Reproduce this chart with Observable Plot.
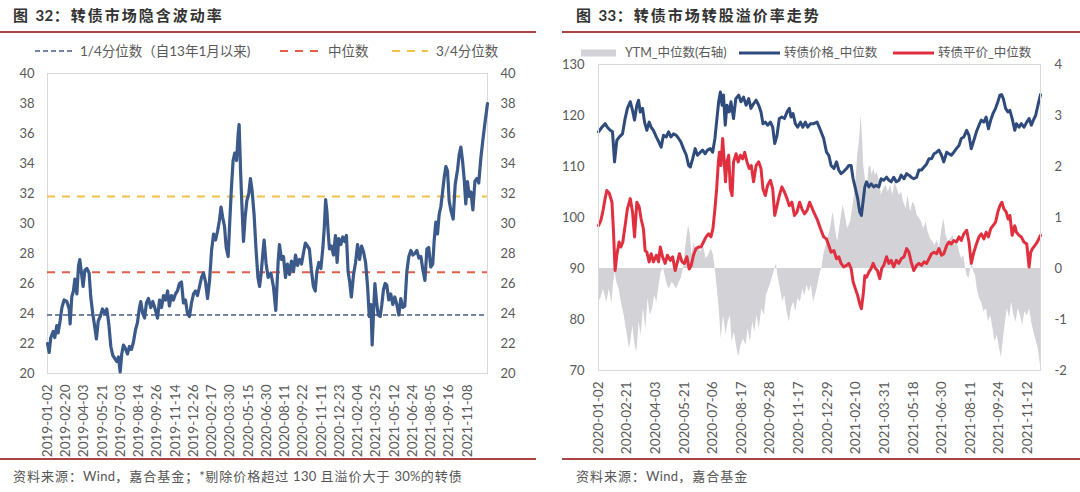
<!DOCTYPE html>
<html><head><meta charset="utf-8">
<script src="https://cdn.jsdelivr.net/npm/d3@7"></script>
<script src="https://cdn.jsdelivr.net/npm/@observablehq/plot@0.6"></script>
<style>
html,body{margin:0;padding:0;background:#fff;}
body{width:1080px;height:492px;overflow:hidden;position:relative;font-family:Lato,"Noto Sans CJK SC",sans-serif;}
.abs{position:absolute;white-space:nowrap;}
.title{font-family:"Noto Sans CJK SC",sans-serif;font-size:15px;line-height:20px;color:#333;font-weight:700;letter-spacing:2px;}
.title b{font-family:Lato,sans-serif;font-weight:700;letter-spacing:0.5px;}
.rule{position:absolute;height:1.5px;background:#a94545;}
.foot{font-family:"Noto Sans CJK SC",sans-serif;font-size:13px;line-height:18px;color:#555;letter-spacing:1px;}
.foot span{font-family:Lato,sans-serif;letter-spacing:0.3px;}
.leg{font-size:13.5px;line-height:18px;color:#595959;}
.legr{font-size:12.5px;line-height:18px;color:#595959;}
svg.sw{position:absolute;overflow:visible;}
</style></head><body>
<div class="abs title" style="left:13px;top:5px;">图 <b>32</b>：转债市场隐含波动率</div>
<div class="abs title" style="left:576px;top:5px;">图 <b>33</b>：转债市场转股溢价率走势</div>
<div class="rule" style="left:0;top:31px;width:536px;"></div>
<div class="rule" style="left:562px;top:31px;width:518px;"></div>
<div class="rule" style="left:0;top:458px;width:536px;"></div>
<div class="rule" style="left:562px;top:458px;width:518px;"></div>
<div class="abs foot" style="left:13px;top:467px;">资料来源：<span>Wind</span>，嘉合基金；<span>*</span>剔除价格超过 <span>130</span> 且溢价大于 <span>30%</span>的转债</div>
<div class="abs foot" style="left:576px;top:467px;">资料来源：<span>Wind</span>，嘉合基金</div>

<div id="legL"></div>
<div id="legR"></div>
<div id="chartL" class="abs" style="left:0;top:62px;"></div>
<div id="chartR" class="abs" style="left:540px;top:55px;"></div>

<script>
// ---------- Figure 32: implied volatility ----------
const ivLabels = ["2019-01-02","2019-02-20","2019-04-03","2019-05-21","2019-07-03","2019-08-14","2019-09-26","2019-11-14","2019-12-26","2020-02-17","2020-03-30","2020-05-15","2020-06-30","2020-08-11","2020-09-22","2020-11-11","2020-12-23","2021-02-04","2021-03-25","2021-05-12","2021-06-24","2021-08-05","2021-09-16","2021-11-08"];
// [position in label steps, implied volatility]
const impliedVol = [[0,22.0],[0.09,21.4],[0.18,22.4],[0.31,22.8],[0.40,22.4],[0.51,23.2],[0.58,22.7],[0.69,23.5],[0.79,24.4],[0.91,24.9],[1.06,24.8],[1.19,24.3],[1.24,23.3],[1.33,25.1],[1.42,25.5],[1.50,26.3],[1.61,25.3],[1.70,27.2],[1.77,27.6],[1.86,26.7],[1.95,25.8],[2.05,26.9],[2.16,27.0],[2.28,26.7],[2.37,25.1],[2.48,24.0],[2.59,23.1],[2.68,22.3],[2.78,23.5],[2.89,23.8],[3.01,24.3],[3.14,24.0],[3.25,24.3],[3.36,23.3],[3.47,21.8],[3.58,21.2],[3.69,21.0],[3.80,20.8],[3.89,21.1],[3.98,20.1],[4.07,21.3],[4.16,21.9],[4.26,21.7],[4.38,21.3],[4.49,21.8],[4.60,21.6],[4.71,22.1],[4.82,22.9],[4.93,23.4],[5.04,24.4],[5.11,24.8],[5.22,24.0],[5.32,23.7],[5.42,24.7],[5.53,25.0],[5.66,24.4],[5.77,24.8],[5.90,24.3],[6.03,23.7],[6.14,24.9],[6.25,24.4],[6.36,25.2],[6.47,24.9],[6.58,25.5],[6.68,24.5],[6.79,25.2],[6.90,24.9],[7.01,25.3],[7.12,25.5],[7.23,26.0],[7.34,26.1],[7.45,24.7],[7.56,24.9],[7.67,24.0],[7.78,23.8],[7.89,24.7],[8.00,25.3],[8.11,25.5],[8.22,25.2],[8.33,25.8],[8.44,26.4],[8.55,26.7],[8.66,26.1],[8.77,25.0],[8.88,26.2],[8.99,28.2],[9.10,29.3],[9.21,28.9],[9.32,29.5],[9.42,30.2],[9.51,31.1],[9.60,30.4],[9.70,29.8],[9.79,28.4],[9.90,27.8],[9.99,30.2],[10.08,32.4],[10.17,34.2],[10.26,34.7],[10.36,34.2],[10.45,36.0],[10.50,36.6],[10.58,33.5],[10.65,31.3],[10.74,28.8],[10.83,30.4],[10.92,31.5],[11.03,32.0],[11.12,33.0],[11.21,32.2],[11.32,30.6],[11.42,28.4],[11.53,26.4],[11.62,25.8],[11.71,26.7],[11.80,28.0],[11.87,28.9],[11.98,27.3],[12.09,26.4],[12.24,26.7],[12.38,25.8],[12.51,24.2],[12.64,27.5],[12.71,28.6],[12.82,27.6],[12.93,27.8],[13.04,26.4],[13.15,27.3],[13.26,26.6],[13.37,27.5],[13.48,26.8],[13.59,27.9],[13.70,27.2],[13.81,27.6],[13.92,27.3],[14.02,28.0],[14.13,28.7],[14.24,28.5],[14.35,28.3],[14.46,26.9],[14.57,25.8],[14.67,25.5],[14.76,26.8],[14.87,27.4],[14.98,27.0],[15.09,28.4],[15.17,29.8],[15.24,31.6],[15.31,30.8],[15.38,29.4],[15.45,28.3],[15.56,28.5],[15.67,27.9],[15.78,29.2],[15.87,27.4],[15.96,29.0],[16.07,28.6],[16.18,29.1],[16.29,28.8],[16.38,29.2],[16.47,26.8],[16.56,26.1],[16.65,25.1],[16.77,26.6],[16.88,27.4],[16.99,28.6],[17.10,27.6],[17.21,28.5],[17.32,28.1],[17.43,27.4],[17.54,25.8],[17.63,23.8],[17.72,24.6],[17.79,21.9],[17.87,24.2],[17.94,26.0],[18.03,24.8],[18.12,23.9],[18.23,23.8],[18.32,24.6],[18.41,25.6],[18.50,26.0],[18.59,25.9],[18.70,24.9],[18.81,25.3],[18.92,24.6],[19.03,25.1],[19.14,24.6],[19.25,23.9],[19.36,25.0],[19.47,24.4],[19.58,24.5],[19.69,26.8],[19.80,27.8],[19.91,28.2],[20.02,27.9],[20.13,28.0],[20.24,28.2],[20.35,27.7],[20.46,27.8],[20.57,26.9],[20.68,26.2],[20.79,28.3],[20.89,28.4],[21.00,27.1],[21.11,27.3],[21.19,28.9],[21.28,30.1],[21.37,29.3],[21.46,30.6],[21.55,31.1],[21.64,32.0],[21.74,33.1],[21.83,33.8],[21.92,33.5],[22.01,31.5],[22.10,30.9],[22.23,30.3],[22.34,32.6],[22.47,33.6],[22.56,34.6],[22.65,35.1],[22.74,34.2],[22.83,33.0],[22.92,31.3],[23.01,32.8],[23.11,31.8],[23.20,32.1],[23.31,30.9],[23.42,32.8],[23.53,33.0],[23.63,32.7],[23.74,34.3],[23.85,35.5],[23.96,36.6],[24.11,38.0]];
const ivQuartile1 = 23.9;   // 1/4分位数
const ivMedian = 26.75;     // 中位数
const ivQuartile3 = 31.8;   // 3/4分位数
const ivLegend = ["1/4分位数（自13年1月以来)", "中位数", "3/4分位数"];

// ---------- Figure 33: premium trend ----------
const pmLabels = ["2020-01-02","2020-02-21","2020-04-03","2020-05-21","2020-07-06","2020-08-17","2020-09-28","2020-11-17","2020-12-29","2021-02-10","2021-03-31","2021-05-18","2021-06-30","2021-08-11","2021-09-24","2021-11-12"];
const pmLegend = ["YTM_中位数(右轴)", "转债价格_中位数", "转债平价_中位数"];
// [position in label steps, value]
const bondPrice = [[0,116.8],[0.12,117.7],[0.23,118.4],[0.31,117.7],[0.41,117.1],[0.49,116.8],[0.56,110.9],[0.64,115.1],[0.73,115.8],[0.84,116.4],[0.93,119.4],[1.01,121.4],[1.11,122.7],[1.19,121.0],[1.26,119.1],[1.34,122.0],[1.40,123.0],[1.46,120.7],[1.54,121.4],[1.61,118.7],[1.69,117.1],[1.77,118.7],[1.84,117.7],[1.92,117.1],[2.02,115.8],[2.11,114.8],[2.19,113.8],[2.27,116.1],[2.37,115.8],[2.45,116.8],[2.53,115.8],[2.62,116.4],[2.72,116.1],[2.80,115.5],[2.88,114.8],[2.97,113.5],[3.07,112.2],[3.15,110.2],[3.21,109.9],[3.29,111.5],[3.38,113.5],[3.46,112.2],[3.56,112.8],[3.64,113.2],[3.73,112.5],[3.81,113.2],[3.91,113.5],[3.99,112.8],[4.07,115.5],[4.14,119.4],[4.20,122.7],[4.26,124.6],[4.32,122.0],[4.37,124.0],[4.43,118.1],[4.49,122.0],[4.57,120.7],[4.63,122.7],[4.72,119.4],[4.80,123.3],[4.90,124.0],[4.98,122.7],[5.07,123.6],[5.16,122.0],[5.25,123.3],[5.33,121.4],[5.42,122.3],[5.51,123.0],[5.60,122.0],[5.68,120.7],[5.75,118.4],[5.83,118.7],[5.91,118.1],[6.01,118.7],[6.09,117.7],[6.16,114.5],[6.24,116.1],[6.32,119.4],[6.41,119.7],[6.50,119.4],[6.59,120.7],[6.67,121.4],[6.73,119.7],[6.80,120.4],[6.88,118.4],[6.96,117.7],[7.06,118.7],[7.14,117.7],[7.23,118.7],[7.31,117.7],[7.41,118.4],[7.52,118.4],[7.64,118.7],[7.76,117.1],[7.87,115.5],[7.97,112.8],[8.05,112.2],[8.13,110.2],[8.23,109.6],[8.32,110.9],[8.40,109.3],[8.48,108.6],[8.57,109.0],[8.67,109.6],[8.75,110.2],[8.83,110.2],[8.90,107.6],[8.98,105.7],[9.06,103.7],[9.13,101.1],[9.19,100.4],[9.26,103.7],[9.31,106.0],[9.37,107.0],[9.45,106.0],[9.53,106.6],[9.62,106.0],[9.70,106.3],[9.80,106.0],[9.88,107.6],[9.97,107.3],[10.07,107.9],[10.15,107.3],[10.23,107.0],[10.32,107.9],[10.41,107.0],[10.50,107.3],[10.58,108.3],[10.68,107.6],[10.77,108.6],[10.85,108.3],[10.93,107.9],[11.02,107.6],[11.12,107.9],[11.20,109.3],[11.29,109.3],[11.38,109.9],[11.47,110.5],[11.55,111.5],[11.64,111.5],[11.73,112.5],[11.82,112.8],[11.90,113.2],[11.99,112.2],[12.07,110.9],[12.17,112.8],[12.25,112.5],[12.33,112.2],[12.42,112.8],[12.51,113.5],[12.60,114.1],[12.68,115.5],[12.77,115.8],[12.87,117.1],[12.95,116.1],[13.03,113.5],[13.12,115.1],[13.21,116.8],[13.30,118.1],[13.38,119.1],[13.47,118.7],[13.55,119.7],[13.63,117.4],[13.71,119.1],[13.79,120.4],[13.88,121.4],[13.96,122.7],[14.03,124.0],[14.09,124.1],[14.15,123.3],[14.23,121.4],[14.31,120.7],[14.38,121.0],[14.46,119.4],[14.55,117.1],[14.61,118.4],[14.70,117.7],[14.78,118.4],[14.87,117.7],[14.97,118.7],[15.05,119.4],[15.13,118.1],[15.20,119.1],[15.28,120.0],[15.36,122.0],[15.45,124.1]];
const conversionParity = [[0,98.4],[0.08,99.4],[0.15,101.1],[0.23,103.7],[0.29,105.3],[0.38,104.7],[0.47,103.0],[0.52,97.8],[0.58,89.6],[0.64,92.6],[0.72,95.2],[0.78,94.2],[0.85,95.2],[0.93,98.4],[1.01,101.7],[1.11,103.7],[1.19,101.1],[1.26,96.2],[1.34,103.0],[1.42,102.1],[1.49,99.7],[1.57,97.8],[1.63,93.5],[1.69,93.2],[1.77,91.3],[1.84,92.9],[1.92,91.3],[2.02,92.6],[2.10,91.3],[2.16,94.2],[2.24,92.3],[2.33,91.0],[2.41,92.6],[2.51,91.6],[2.59,92.3],[2.68,89.6],[2.76,91.3],[2.83,92.9],[2.92,91.3],[3.00,91.0],[3.09,92.3],[3.17,89.9],[3.24,90.6],[3.32,92.6],[3.41,93.9],[3.50,94.2],[3.58,94.2],[3.67,95.2],[3.76,96.2],[3.85,96.8],[3.93,96.2],[4.00,97.8],[4.07,101.7],[4.13,105.6],[4.19,110.9],[4.23,112.8],[4.28,110.2],[4.34,115.5],[4.38,112.2],[4.44,107.0],[4.49,110.9],[4.55,112.2],[4.61,105.6],[4.67,104.3],[4.72,110.9],[4.81,112.5],[4.88,110.9],[4.96,112.2],[5.04,111.5],[5.11,112.8],[5.19,110.9],[5.27,109.6],[5.34,110.2],[5.42,107.0],[5.51,110.2],[5.60,110.9],[5.68,109.6],[5.75,105.6],[5.83,104.3],[5.91,106.3],[6.01,107.3],[6.09,105.6],[6.16,100.4],[6.24,102.3],[6.32,104.3],[6.41,106.0],[6.50,105.0],[6.59,103.7],[6.67,102.3],[6.76,103.0],[6.85,100.4],[6.94,101.1],[7.03,103.0],[7.11,101.7],[7.20,100.7],[7.29,101.4],[7.38,103.0],[7.52,101.1],[7.64,99.7],[7.76,97.8],[7.87,96.2],[7.97,95.8],[8.05,94.5],[8.13,93.2],[8.23,93.5],[8.32,91.9],[8.40,92.3],[8.48,91.0],[8.57,90.3],[8.67,90.6],[8.75,91.0],[8.83,90.0],[8.90,87.4],[8.98,86.0],[9.06,84.7],[9.13,83.1],[9.19,82.1],[9.26,85.3],[9.31,88.6],[9.37,88.3],[9.45,89.3],[9.53,90.0],[9.60,91.0],[9.68,90.0],[9.75,89.6],[9.83,88.0],[9.90,90.0],[9.97,90.6],[10.07,92.3],[10.15,91.0],[10.23,91.6],[10.32,90.3],[10.41,91.6],[10.50,91.0],[10.58,91.9],[10.68,92.3],[10.77,93.9],[10.85,93.2],[10.93,91.3],[11.02,89.6],[11.12,90.6],[11.20,91.0],[11.29,90.6],[11.38,91.3],[11.47,91.0],[11.55,91.9],[11.64,92.9],[11.73,93.2],[11.82,92.9],[11.90,93.9],[11.99,92.6],[12.07,92.9],[12.17,94.5],[12.25,95.2],[12.33,94.8],[12.42,95.5],[12.51,95.2],[12.60,96.2],[12.68,95.5],[12.77,96.8],[12.87,97.5],[12.95,95.2],[13.03,91.0],[13.12,93.2],[13.21,94.8],[13.30,96.2],[13.38,96.8],[13.47,95.8],[13.55,97.1],[13.63,96.2],[13.71,97.8],[13.79,98.4],[13.88,99.1],[13.96,101.1],[14.03,102.3],[14.10,103.0],[14.17,101.7],[14.25,101.1],[14.32,99.7],[14.38,100.4],[14.46,96.5],[14.55,98.4],[14.61,97.1],[14.70,96.5],[14.78,96.2],[14.87,95.2],[14.97,94.8],[15.05,90.3],[15.11,93.2],[15.17,93.9],[15.25,94.5],[15.34,95.2],[15.45,96.5]];
const ytmMedian = [[0,-0.66],[0.08,-0.59],[0.17,-0.40],[0.29,-0.66],[0.38,-0.40],[0.47,-0.69],[0.52,-0.33],[0.58,-0.07],[0.64,-0.27],[0.72,-0.40],[0.82,-0.72],[0.90,-0.92],[0.99,-1.25],[1.08,-1.57],[1.13,-1.44],[1.20,-1.12],[1.28,-1.51],[1.34,-1.64],[1.42,-1.05],[1.49,-1.31],[1.57,-0.79],[1.66,-1.18],[1.73,-0.59],[1.81,-0.92],[1.89,-0.79],[1.96,-0.53],[2.04,-0.66],[2.12,-0.33],[2.19,-0.07],[2.27,0],[2.33,-0.14],[2.41,-0.33],[2.48,-0.40],[2.57,-0.27],[2.65,-0.33],[2.74,-0.40],[2.82,-0.27],[2.89,-0.20],[2.97,0],[3.07,0.52],[3.15,0.85],[3.21,0.65],[3.27,0.26],[3.35,0.52],[3.42,0.26],[3.50,0.42],[3.58,0.32],[3.67,0.45],[3.76,0.19],[3.85,0.26],[3.94,0.39],[4.02,0.26],[4.08,0],[4.14,-0.33],[4.22,-0.79],[4.29,-1.38],[4.37,-0.92],[4.46,-1.31],[4.53,-1.05],[4.61,-0.92],[4.67,-1.44],[4.75,-1.25],[4.84,-1.57],[4.90,-1.74],[4.98,-1.51],[5.07,-1.38],[5.16,-1.51],[5.23,-1.18],[5.31,-1.44],[5.39,-1.05],[5.46,-1.25],[5.54,-0.92],[5.62,-1.18],[5.71,-0.79],[5.80,-0.92],[5.87,-0.53],[5.95,-0.40],[6.03,-0.27],[6.10,-0.14],[6.16,0],[6.22,0.09],[6.27,-0.14],[6.36,-0.40],[6.44,-0.66],[6.51,-0.53],[6.59,-0.85],[6.67,-1.05],[6.74,-0.79],[6.82,-0.66],[6.90,-0.85],[6.97,-0.59],[7.06,-0.66],[7.14,-0.40],[7.21,-0.53],[7.29,-0.33],[7.37,-0.46],[7.44,-0.33],[7.52,-0.66],[7.64,-0.40],[7.76,-0.07],[7.81,0],[7.87,0.26],[7.99,0.52],[8.11,0.78],[8.20,1.11],[8.28,0.78],[8.36,0.52],[8.46,0.91],[8.55,1.24],[8.63,1.04],[8.71,0.78],[8.81,0.91],[8.90,1.24],[8.98,1.57],[9.06,2.22],[9.13,2.55],[9.18,3.01],[9.23,2.55],[9.27,2.02],[9.33,1.76],[9.39,1.50],[9.45,1.96],[9.51,2.02],[9.57,1.83],[9.62,1.96],[9.68,1.83],[9.74,1.89],[9.82,1.70],[9.89,1.43],[9.97,1.57],[10.05,1.63],[10.13,1.50],[10.21,1.63],[10.29,1.43],[10.36,1.70],[10.44,1.57],[10.52,1.43],[10.59,1.50],[10.67,1.30],[10.75,1.17],[10.82,1.43],[10.91,1.11],[10.99,1.30],[11.06,1.24],[11.14,1.04],[11.22,0.98],[11.29,0.91],[11.37,0.78],[11.45,0.91],[11.52,0.72],[11.61,0.58],[11.69,0.52],[11.76,0.45],[11.84,0.55],[11.92,0.39],[11.99,0.72],[12.07,0.98],[12.15,0.65],[12.23,0.52],[12.31,0.58],[12.39,0.65],[12.46,0.45],[12.54,0.52],[12.62,0.32],[12.69,0.19],[12.77,0.26],[12.83,0],[12.89,-0.14],[12.95,-0.20],[13.01,0],[13.07,0.06],[13.12,-0.07],[13.18,-0.14],[13.24,-0.40],[13.32,-0.59],[13.39,-0.66],[13.47,-0.85],[13.56,-0.79],[13.63,-1.05],[13.71,-0.92],[13.79,-1.18],[13.86,-1.44],[13.94,-1.31],[14.02,-1.57],[14.08,-1.74],[14.13,-1.51],[14.21,-1.12],[14.29,-0.79],[14.37,-0.98],[14.44,-0.66],[14.52,-0.92],[14.60,-1.05],[14.67,-0.79],[14.75,-0.92],[14.83,-1.12],[14.90,-0.85],[14.99,-0.92],[15.07,-0.79],[15.14,-1.05],[15.22,-1.25],[15.31,-1.44],[15.37,-1.57],[15.45,-1.90]];

// ---------- colours ----------
const C = {
  ivLine: "#3b5a8a", q1: "#7384a8", med: "#e2604a", q3: "#f3c04a",
  price: "#2f4b7c", parity: "#e0303f", ytm: "#d3d3d7", frame: "#d9d9d9", text: "#595959"
};

const toObj = arr => arr.map(([p, v]) => ({p, v}));

// ---------- left chart ----------
const left = Plot.plot({
  width: 540, height: 398,
  marginLeft: 47, marginRight: 53, marginTop: 11, marginBottom: 87,
  style: {fontFamily: "Lato, sans-serif", fontSize: "13px", color: C.text, background: "transparent", overflow: "visible"},
  x: {type: "linear", domain: [0, 24.11]},
  y: {domain: [20, 40]},
  marks: [
    Plot.frame({stroke: C.frame}),
    Plot.ruleY([ivQuartile1], {stroke: C.q1, strokeWidth: 2, strokeDasharray: "5,3"}),
    Plot.ruleY([ivMedian], {stroke: C.med, strokeWidth: 2, strokeDasharray: "8,7"}),
    Plot.ruleY([ivQuartile3], {stroke: C.q3, strokeWidth: 2, strokeDasharray: "8,7"}),
    Plot.line(toObj(impliedVol), {x: "p", y: "v", stroke: C.ivLine, strokeWidth: 3.2, strokeLinejoin: "round"}),
    Plot.axisX({ticks: d3.range(ivLabels.length), tickFormat: i => ivLabels[i], tickRotate: -90, tickSize: 0, tickPadding: 11, fontSize: 13.5, label: null}),
    Plot.axisY({anchor: "left", ticks: d3.range(20, 41, 2), tickSize: 0, tickPadding: 13, label: null}),
    Plot.axisY({anchor: "right", ticks: d3.range(20, 41, 2), tickSize: 0, tickPadding: 13, label: null})
  ]
});
document.getElementById("chartL").append(left);

// ---------- right chart ----------
// YTM plotted on right axis: right = (left - 90) / 10
const toLeft = r => 90 + r * 10;
const right = Plot.plot({
  width: 540, height: 405,
  marginLeft: 58, marginRight: 40, marginTop: 9, marginBottom: 90,
  style: {fontFamily: "Lato, sans-serif", fontSize: "13px", color: C.text, background: "transparent", overflow: "visible"},
  x: {type: "linear", domain: [0, 15.45]},
  y: {domain: [70, 130]},
  marks: [
    Plot.areaY(toObj(ytmMedian), {x: "p", y1: 90, y2: d => toLeft(d.v), fill: C.ytm}),
    Plot.line(toObj(bondPrice), {x: "p", y: "v", stroke: C.price, strokeWidth: 3, strokeLinejoin: "round"}),
    Plot.line(toObj(conversionParity), {x: "p", y: "v", stroke: C.parity, strokeWidth: 3, strokeLinejoin: "round"}),
    Plot.frame({stroke: C.frame}),
    Plot.axisX({ticks: d3.range(pmLabels.length), tickFormat: i => pmLabels[i], tickRotate: -90, tickSize: 0, tickPadding: 11, fontSize: 13.5, label: null}),
    Plot.axisY({anchor: "left", ticks: d3.range(70, 131, 10), tickSize: 0, tickPadding: 14, label: null}),
    Plot.axisY({anchor: "right", ticks: d3.range(70, 131, 10), tickFormat: d => String((d - 90) / 10), tickSize: 0, tickPadding: 14, label: null})
  ]
});
document.getElementById("chartR").append(right);

// ---------- legends ----------
function legendItem(host, x, y, w, swatch, text, cls, tx) {
  const ns = "http://www.w3.org/2000/svg";
  const s = document.createElementNS(ns, "svg");
  s.setAttribute("class", "sw");
  s.setAttribute("width", w); s.setAttribute("height", 10);
  s.style.left = x + "px"; s.style.top = (y - 5) + "px";
  s.innerHTML = swatch(w);
  host.append(s);
  const d = document.createElement("div");
  d.className = "abs " + cls;
  d.style.left = tx + "px"; d.style.top = (y - 9) + "px";
  d.textContent = text;
  host.append(d);
}
const dash = (col, da) => w => `<line x1="0" x2="${w}" y1="5" y2="5" stroke="${col}" stroke-width="2.2" stroke-dasharray="${da}"/>`;
const L = document.getElementById("legL");
legendItem(L, 35, 51, 38, dash(C.q1, "5,3"), ivLegend[0], "leg", 80);
legendItem(L, 280, 51, 38, dash(C.med, "8,7"), ivLegend[1], "leg", 328);
legendItem(L, 392, 51, 36, dash(C.q3, "8,7"), ivLegend[2], "leg", 436);
const R = document.getElementById("legR");
legendItem(R, 581, 53, 35, w => `<rect x="0" y="1.5" width="${w}" height="7" fill="${C.ytm}"/>`, pmLegend[0], "legr", 625);
legendItem(R, 739, 53, 41, w => `<line x1="0" x2="${w}" y1="5" y2="5" stroke="${C.price}" stroke-width="3"/>`, pmLegend[1], "legr", 784);
legendItem(R, 893, 53, 41, w => `<line x1="0" x2="${w}" y1="5" y2="5" stroke="${C.parity}" stroke-width="3"/>`, pmLegend[2], "legr", 938);
</script>
</body></html>
